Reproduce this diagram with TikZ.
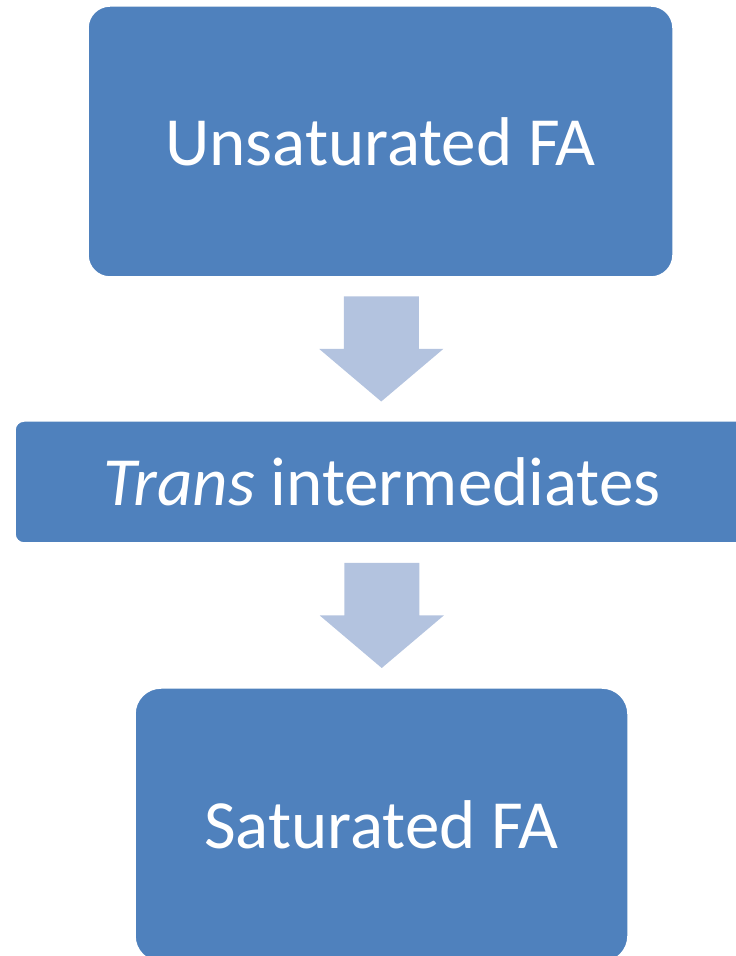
\documentclass[tikz,border=0pt]{standalone}
\usepackage{fontspec}
\setmainfont{Carlito}
\usetikzlibrary{calc}
\definecolor{boxblue}{HTML}{4F81BD}
\definecolor{arrowblue}{HTML}{B3C3DF}
\tikzset{
  fabox/.style={fill=boxblue, draw=white, line width=1.5pt, text=white,
    font=\fontsize{69}{82}\selectfont, align=center, inner sep=0pt},
  flowarrow/.style={fill=arrowblue}
}
% block arrow between two boxes
\newcommand{\flowdown}[2]{%
  \coordinate (m) at ($(#1.south)!0.5!(#2.north)$);
  \fill[flowarrow] ($(m)+(-37.5,52.5)$) -- ($(m)+(37.5,52.5)$) -- ($(m)+(37.5,0)$)
    -- ($(m)+(62,0)$) -- ($(m)+(0,-52.5)$) -- ($(m)+(-62,0)$) -- ($(m)+(-37.5,0)$) -- cycle;}
\begin{document}
\begin{tikzpicture}[x=1pt, y=1pt]
  \useasboundingbox (0,0) rectangle (736,956);
  \begin{scope}
  \clip (0,0) rectangle (736,956);
  \node[fabox, minimum width=585pt, minimum height=271pt, rounded corners=22pt]
    (unsat) at (380.5,814.5) {Unsaturated FA};
  \node[fabox, minimum width=734pt, minimum height=122pt, rounded corners=9pt]
    (trans) at (382,474) {\textit{Trans} intermediates};
  \node[fabox, minimum width=493pt, minimum height=274pt, rounded corners=26pt]
    (sat) at (381.5,131) {Saturated FA};
  \flowdown{unsat}{trans}
  \flowdown{trans}{sat}
  \end{scope}
\end{tikzpicture}
\end{document}
